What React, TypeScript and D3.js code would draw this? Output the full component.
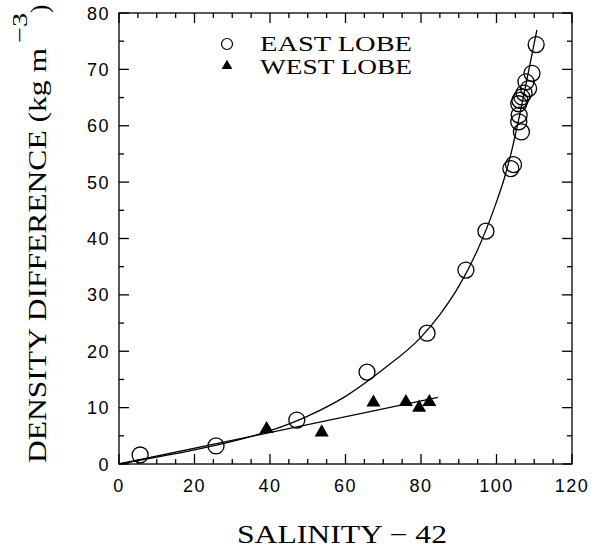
import * as d3 from 'd3'
import React from 'react'

// east lobe (circles)
const eastSalinity = [5.6, 25.7, 47.1, 65.7, 81.6, 91.9, 97.2, 103.8, 104.5, 105.9, 106.0, 106.6, 105.9, 106.2, 106.7, 107.3, 108.5, 107.8, 109.4, 110.5]
const eastDensity = [1.6, 3.2, 7.8, 16.3, 23.2, 34.4, 41.3, 52.4, 53.1, 60.7, 61.9, 58.9, 63.9, 64.5, 65.1, 65.8, 66.6, 67.8, 69.3, 74.4]

// west lobe (triangles)
const westSalinity = [39.1, 53.7, 67.4, 76.0, 79.5, 82.2]
const westDensity = [6.2, 5.6, 10.9, 11.0, 10.0, 11.0]

// fitted curves
const eastFitX = [0, 10, 20, 30, 40, 50, 60, 70, 80, 85, 90, 95, 100, 102, 104, 106, 108, 110.7]
const eastFitY = [0, 1.2, 2.5, 4.0, 5.9, 8.5, 12.0, 16.8, 22.5, 26.5, 31.5, 38.0, 46.5, 50.5, 55.5, 61.5, 68.0, 77.0]
const westFitX = [0, 84.5]
const westFitY = [0, 11.8]

const xTicks = [0, 20, 40, 60, 80, 100, 120]
const yTicks = [0, 10, 20, 30, 40, 50, 60, 70, 80]

const W = 599
const H = 550
const m = { left: 119, right: 572, top: 13, bottom: 464 }

export default function App() {
  const x = d3.scaleLinear().domain([0, 120]).range([m.left, m.right])
  const y = d3.scaleLinear().domain([0, 80]).range([m.bottom, m.top])

  const eastPath = d3
    .line<[number, number]>()
    .x(d => x(d[0]))
    .y(d => y(d[1]))
    .curve(d3.curveMonotoneX)(eastFitX.map((v, i) => [v, eastFitY[i]]))
  const westPath = d3
    .line<[number, number]>()
    .x(d => x(d[0]))
    .y(d => y(d[1]))(westFitX.map((v, i) => [v, westFitY[i]]))

  const tri = d3.symbol(d3.symbolTriangle, 85)()

  const xMinor = d3.range(0, 121, 5)
  const yMinor = d3.range(0, 81, 5)
  const tickLen = (v: number, major: number) => (v % major === 0 ? 10 : 5)

  const serif = "'Liberation Serif', 'Times New Roman', serif"
  const sans = "'Liberation Sans', Arial, sans-serif"

  return (
    <svg width={W} height={H} style={{ position: 'absolute', left: 0, top: 0, background: '#fff' }}>
      <rect x={0} y={0} width={W} height={H} fill="#fff" />
      <g stroke="#000" strokeWidth={1.3} fill="none">
        <rect x={m.left} y={m.top} width={m.right - m.left} height={m.bottom - m.top} />
        {xMinor.map(v => (
          <g key={'x' + v}>
            <line x1={x(v)} x2={x(v)} y1={m.bottom} y2={m.bottom - tickLen(v, 20)} />
            <line x1={x(v)} x2={x(v)} y1={m.top} y2={m.top + tickLen(v, 20)} />
          </g>
        ))}
        {yMinor.map(v => (
          <g key={'y' + v}>
            <line x1={m.left} x2={m.left + tickLen(v, 10)} y1={y(v)} y2={y(v)} />
            <line x1={m.right} x2={m.right - tickLen(v, 10)} y1={y(v)} y2={y(v)} />
          </g>
        ))}
      </g>

      <g fontFamily={sans} fontSize={18} fill="#000">
        {xTicks.map(v => (
          <text key={v} x={x(v)} y={492} textAnchor="middle" letterSpacing={1.5}>
            {v}
          </text>
        ))}
        {yTicks.map(v => (
          <text key={v} x={110} y={y(v) + 6.5} textAnchor="end" letterSpacing={1.5}>
            {v}
          </text>
        ))}
      </g>

      <path d={eastPath ?? ''} fill="none" stroke="#000" strokeWidth={1.3} />
      <path d={westPath ?? ''} fill="none" stroke="#000" strokeWidth={1.3} />

      {eastSalinity.map((v, i) => (
        <circle key={i} cx={x(v)} cy={y(eastDensity[i])} r={8} fill="none" stroke="#000" strokeWidth={1.3} />
      ))}
      {westSalinity.map((v, i) => (
        <path key={i} d={tri ?? ''} transform={`translate(${x(v)},${y(westDensity[i])})`} fill="#000" />
      ))}

      {/* legend */}
      <circle cx={227} cy={44} r={5.5} fill="none" stroke="#000" strokeWidth={1.2} />
      <path d={d3.symbol(d3.symbolTriangle, 50)() ?? ''} transform="translate(227,66)" fill="#000" />
      <g fontFamily={serif} fontSize={21} fill="#000">
        <text x={260} y={51} textLength={152} lengthAdjust="spacingAndGlyphs">EAST LOBE</text>
        <text x={260} y={74} textLength={152} lengthAdjust="spacingAndGlyphs">WEST LOBE</text>
      </g>

      <text x={237} y={543} fontFamily={serif} fontSize={25} textLength={210} lengthAdjust="spacingAndGlyphs">
        SALINITY − 42
      </text>

      <g transform="translate(46,463) rotate(-90)" fontFamily={serif} fontSize={25}>
        <text x={0} y={0} textLength={415} lengthAdjust="spacingAndGlyphs">DENSITY DIFFERENCE (kg m</text>
        <text x={420} y={-19} fontSize={22} textLength={30} lengthAdjust="spacingAndGlyphs">−3</text>
        <text x={450} y={2}>)</text>
      </g>
    </svg>
  )
}
